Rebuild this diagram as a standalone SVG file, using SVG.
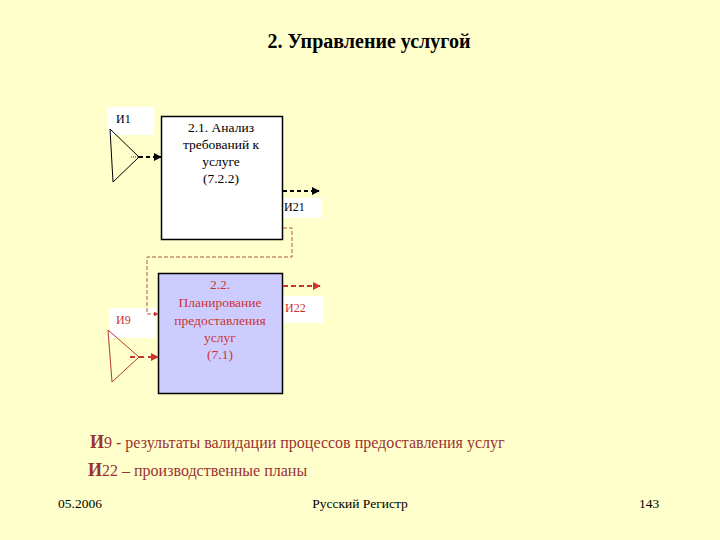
<svg xmlns="http://www.w3.org/2000/svg" width="720" height="540" viewBox="0 0 720 540">
<style>
.box{stroke:#000;stroke-width:1.5}
.lbl{fill:#fff}
.red{fill:#cc3333}
.leg{fill:#993333;font-size:16px}
.nt{font-size:13.5px;text-anchor:middle}
</style>
<defs>
<marker id="ab" viewBox="0 0 10 10" refX="9" refY="5" markerWidth="4" markerHeight="4" orient="auto"><path d="M0,0L10,5L0,10z" fill="#000"/></marker>
<marker id="ar" viewBox="0 0 10 10" refX="9" refY="5" markerWidth="4" markerHeight="4" orient="auto"><path d="M0,0L10,5L0,10z" fill="#cc3333"/></marker>
<marker id="abr" viewBox="0 0 10 10" refX="9" refY="5" markerWidth="5" markerHeight="5" orient="auto"><path d="M0,0L10,5L0,10z" fill="#cc3333"/></marker>
</defs>
<rect width="720" height="540" fill="#ffffcc"/>
<g font-family="Liberation Serif, DejaVu Serif, serif">
<text x="369" y="48" text-anchor="middle" font-size="20" font-weight="bold">2. Управление услугой</text>

<g id="labels">
<rect class="lbl" x="107" y="107" width="47" height="28"/>
<text x="116" y="123" font-size="12">И1</text>
<rect class="lbl" x="282" y="198" width="40" height="20"/>
<text x="284" y="211" font-size="12">И21</text>
<rect class="lbl" x="109" y="308" width="46" height="30"/>
<text x="116" y="324" font-size="12" class="red">И9</text>
<rect class="lbl" x="283" y="296" width="40" height="27"/>
<text x="285" y="312" font-size="12" class="red">И22</text>
</g>

<g id="node-2-1">
<rect class="box" x="161.5" y="116.5" width="121" height="123" fill="#fff"/>
<text x="221" y="132" class="nt">2.1. Анализ</text>
<text x="221" y="149" class="nt">требований к</text>
<text x="221" y="166" class="nt">услуге</text>
<text x="221" y="183" class="nt">(7.2.2)</text>
</g>

<g id="node-2-2">
<rect class="box" x="158.5" y="273.5" width="124" height="120" fill="#ccccff"/>
<text x="220" y="289" class="nt red">2.2.</text>
<text x="220" y="307" class="nt red">Планирование</text>
<text x="220" y="325" class="nt red">предоставления</text>
<text x="220" y="342" class="nt red">услуг</text>
<text x="220" y="359" class="nt red">(7.1)</text>
</g>

<g id="triangles">
<path d="M110,129L113,182L139,157z" fill="none" stroke="#000" stroke-width="1"/>
<path d="M108,330L112,382L139,357z" fill="none" stroke="#b03a2e" stroke-width="1"/>
</g>

<g id="connectors" fill="none">
<line x1="131" y1="157" x2="139" y2="157" stroke="#000" stroke-width="0.8" stroke-dasharray="1,1"/>
<line x1="139" y1="157" x2="161" y2="157" stroke="#000" stroke-width="2" stroke-dasharray="4,3" marker-end="url(#ab)"/>
<line x1="283" y1="191" x2="319" y2="191" stroke="#000" stroke-width="2" stroke-dasharray="4,3" marker-end="url(#ab)"/>
<line x1="130" y1="357" x2="158" y2="357" stroke="#cc3333" stroke-width="2" stroke-dasharray="5,4" marker-end="url(#ar)"/>
<line x1="283" y1="286" x2="320" y2="286" stroke="#cc3333" stroke-width="2" stroke-dasharray="5,3" marker-end="url(#ar)"/>
<path d="M283,228H292V257H147V314H158" stroke="#b05a3a" stroke-width="1" stroke-dasharray="4,2" marker-end="url(#abr)"/>
</g>

<g id="legend">
<text x="90" y="448" class="leg"><tspan font-weight="bold" font-size="18">И</tspan>9 - результаты валидации  процессов предоставления услуг</text>
<text x="88" y="476" class="leg"><tspan font-weight="bold" font-size="18">И</tspan>22 – производственные планы</text>
</g>

<g id="footer">
<text x="58" y="508" font-size="13.5">05.2006</text>
<text x="360" y="508" text-anchor="middle" font-size="13.5">Русский Регистр</text>
<text x="639" y="508" font-size="13.5">143</text>
</g>
</g>
</svg>
